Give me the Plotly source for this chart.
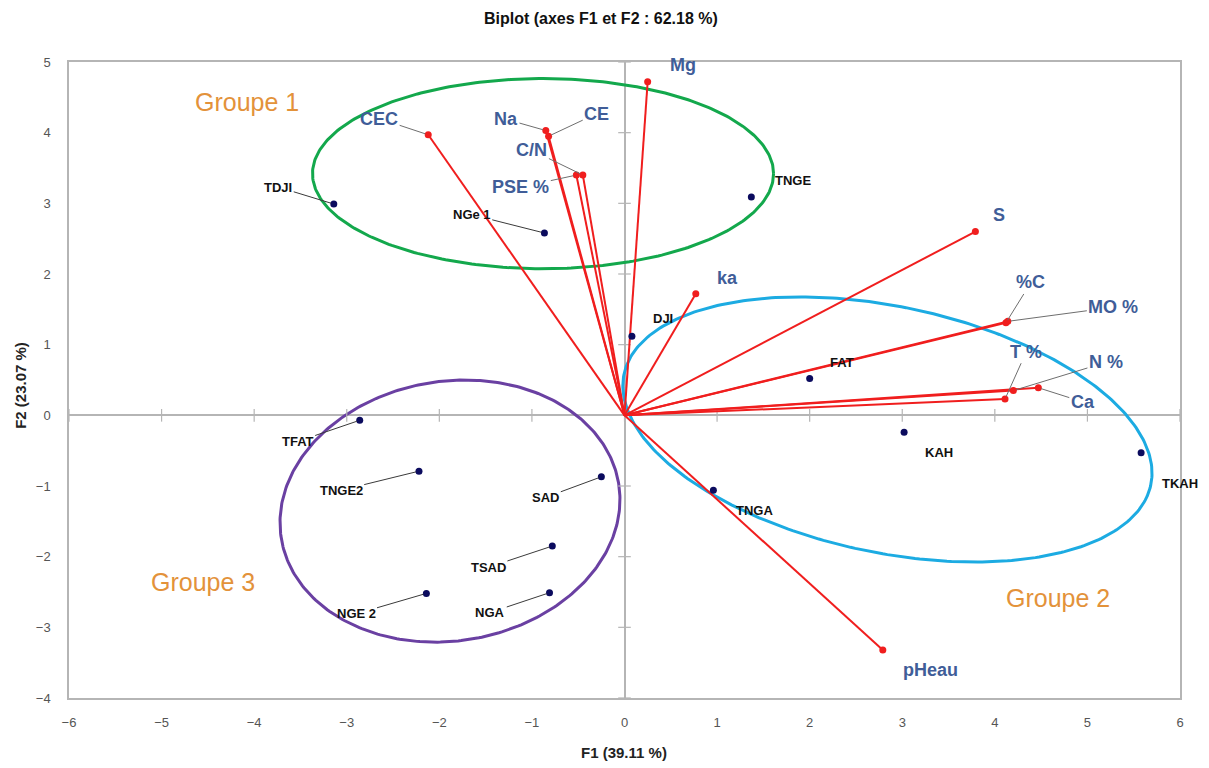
import numpy as np
import plotly.graph_objects as go

# ---------------- data ----------------
var_names = ["Mg", "CEC", "Na", "CE", "C/N", "PSE %", "S", "ka", "%C", "MO %", "T %", "N %", "Ca", "pHeau"]
var_f1 = [0.25, -2.12, -0.85, -0.82, -0.45, -0.52, 3.79, 0.77, 4.12, 4.14, 4.11, 4.20, 4.47, 2.79]
var_f2 = [4.72, 3.97, 4.03, 3.95, 3.40, 3.40, 2.60, 1.72, 1.31, 1.33, 0.23, 0.35, 0.39, -3.32]

obs_names = ["TDJI", "NGe 1", "TNGE", "DJI", "FAT", "KAH", "TKAH", "TNGA",
             "TFAT", "TNGE2", "SAD", "TSAD", "NGA", "NGE 2"]
obs_f1 = [-3.14, -0.865, 1.37, 0.08, 2.00, 3.02, 5.58, 0.96, -2.86, -2.22, -0.25, -0.78, -0.81, -2.14]
obs_f2 = [2.99, 2.58, 3.09, 1.12, 0.52, -0.24, -0.53, -1.06, -0.07, -0.79, -0.87, -1.85, -2.51, -2.52]

group_names = ["Groupe 1", "Groupe 2", "Groupe 3"]
ell_cx = [-0.88, 2.84, -1.885]
ell_cy = [3.42, -0.20, -1.355]
ell_a = [2.49, 2.96, 1.925]
ell_b = [1.345, 1.71, 1.762]
ell_rot_deg = [0.0, -18.6, 48.3]

x_ticks = [-6, -5, -4, -3, -2, -1, 0, 1, 2, 3, 4, 5, 6]
y_ticks = [-4, -3, -2, -1, 0, 1, 2, 3, 4, 5]

# ---------------- label placement (layout) ----------------
var_label_pos = {
    "Mg": (0.63, 4.96, False), "CEC": (-2.65, 4.20, True), "Na": (-1.28, 4.19, True),
    "CE": (-0.30, 4.27, True), "C/N": (-1.00, 3.75, True), "PSE %": (-1.12, 3.23, True),
    "S": (4.05, 2.83, False), "ka": (1.11, 1.95, False), "%C": (4.39, 1.88, True),
    "MO %": (5.28, 1.53, True), "T %": (4.34, 0.90, True), "N %": (5.20, 0.75, True),
    "Ca": (4.95, 0.19, True), "pHeau": (3.31, -3.61, False),
}
obs_label_pos = {
    "TDJI": (-3.74, 3.23, True), "NGe 1": (-1.65, 2.84, True), "TNGE": (1.82, 3.32, False),
    "DJI": (0.42, 1.37, False), "FAT": (2.35, 0.75, False), "KAH": (3.40, -0.52, False),
    "TKAH": (6.00, -0.96, False), "TNGA": (1.40, -1.34, False), "TFAT": (-3.53, -0.37, True),
    "TNGE2": (-3.06, -1.06, True), "SAD": (-0.85, -1.16, True), "TSAD": (-1.47, -2.15, True),
    "NGA": (-1.45, -2.79, True), "NGE 2": (-2.90, -2.81, True),
}
group_label_pos = [(-4.08, 4.44), (4.68, -2.59), (-4.55, -2.36)]
ell_colors = ["#13A84C", "#1CABE2", "#6A40A2"]

VAR_COLOR = "#405D98"
GROUP_COLOR = "#E3923A"
AXIS_GREY = "#B5B5B5"
FONT = "Liberation Sans"

fig = go.Figure()

# ellipses
t = np.linspace(0, 2 * np.pi, 361)
for cx, cy, a, b, r, col in zip(ell_cx, ell_cy, ell_a, ell_b, ell_rot_deg, ell_colors):
    th = np.radians(r)
    ex = cx + a * np.cos(th) * np.cos(t) - b * np.sin(th) * np.sin(t)
    ey = cy + a * np.sin(th) * np.cos(t) + b * np.cos(th) * np.sin(t)
    fig.add_trace(go.Scatter(x=ex, y=ey, mode="lines", line=dict(color=col, width=3),
                             hoverinfo="skip", showlegend=False))

# crossing axis tick marks
fig.add_trace(go.Scatter(x=x_ticks, y=[0] * len(x_ticks), mode="markers",
                         marker=dict(symbol="line-ns", size=9, line=dict(color=AXIS_GREY, width=1.2)),
                         hoverinfo="skip", showlegend=False))
fig.add_trace(go.Scatter(x=[0] * len(y_ticks), y=y_ticks, mode="markers",
                         marker=dict(symbol="line-ew", size=9, line=dict(color=AXIS_GREY, width=1.2)),
                         hoverinfo="skip", showlegend=False))

# vectors
vx, vy = [], []
for fx, fy in zip(var_f1, var_f2):
    vx += [0, fx, None]
    vy += [0, fy, None]
fig.add_trace(go.Scatter(x=vx, y=vy, mode="lines", line=dict(color="#F01E1E", width=2),
                         hoverinfo="skip", showlegend=False))
fig.add_trace(go.Scatter(x=var_f1, y=var_f2, mode="markers", text=var_names,
                         marker=dict(color="#F01E1E", size=7), showlegend=False))

# observations
fig.add_trace(go.Scatter(x=obs_f1, y=obs_f2, mode="markers", text=obs_names,
                         marker=dict(color="#0B0B5E", size=7), showlegend=False, cliponaxis=False))

annotations = []
for name, fx, fy in zip(var_names, var_f1, var_f2):
    lx, ly, leader = var_label_pos[name]
    txt = "<b>" + name + "</b>"
    vfont = dict(family=FONT, size=18, color=VAR_COLOR)
    if leader:
        annotations.append(dict(
            x=fx, y=fy, ax=lx, ay=ly, xref="x", yref="y", axref="x", ayref="y",
            text=txt, showarrow=True, arrowhead=0, arrowwidth=1, arrowcolor="#6E6E6E",
            standoff=3, font=vfont, xanchor="center", yanchor="middle"))
    else:
        annotations.append(dict(x=lx, y=ly, xref="x", yref="y", text=txt, showarrow=False,
                                font=vfont, xanchor="center", yanchor="middle"))
for name, fx, fy in zip(obs_names, obs_f1, obs_f2):
    lx, ly, leader = obs_label_pos[name]
    txt = "<b>" + name + "</b>"
    ofont = dict(family=FONT, size=13, color="#111111")
    if leader:
        annotations.append(dict(
            x=fx, y=fy, ax=lx, ay=ly, xref="x", yref="y", axref="x", ayref="y",
            text=txt, showarrow=True, arrowhead=0, arrowwidth=1, arrowcolor="#3A3A3A",
            standoff=3, font=ofont))
    else:
        annotations.append(dict(x=lx, y=ly, xref="x", yref="y", text=txt, showarrow=False,
                                font=ofont, xanchor="center", yanchor="middle"))
for g, (gx, gy) in zip(group_names, group_label_pos):
    annotations.append(dict(x=gx, y=gy, xref="x", yref="y", text=g, showarrow=False,
                            xanchor="center", yanchor="middle",
                            font=dict(family=FONT, size=25, color=GROUP_COLOR)))

annotations.append(dict(x=0.4995, y=-0.085, xref="paper", yref="paper", text="<b>F1 (39.11 %)</b>",
                        showarrow=False, xanchor="center", yanchor="middle",
                        font=dict(family=FONT, size=15, color="#222222")))
annotations.append(dict(x=-0.0443, y=0.492, xref="paper", yref="paper", text="<b>F2 (23.07 %)</b>",
                        textangle=-90, showarrow=False, xanchor="center", yanchor="middle",
                        font=dict(family=FONT, size=15, color="#222222")))

fig.update_layout(
    width=1209, height=768,
    margin=dict(l=69, r=29, t=62, b=70),
    paper_bgcolor="white", plot_bgcolor="white",
    title=dict(text="<b>Biplot (axes F1 et F2 : 62.18 %)</b>", x=0.497, xanchor="center",
               y=1 - 18 / 768, yanchor="middle", yref="container",
               font=dict(family=FONT, size=16, color="#111111")),
    annotations=annotations,
    showlegend=False,
)
fig.update_xaxes(range=[-6, 6], tickvals=x_ticks, showgrid=False, zeroline=True,
                 zerolinecolor=AXIS_GREY, zerolinewidth=1.5, showline=True, linecolor=AXIS_GREY,
                 linewidth=1.5, mirror=True, ticks="outside", ticklen=12, tickcolor="rgba(0,0,0,0)",
                 tickfont=dict(family=FONT, size=13, color="#555555"))
fig.update_yaxes(range=[-4, 5], tickvals=y_ticks, showgrid=False, zeroline=True,
                 zerolinecolor=AXIS_GREY, zerolinewidth=1.5, showline=True, linecolor=AXIS_GREY,
                 linewidth=1.5, mirror=True, ticks="outside", ticklen=14, tickcolor="rgba(0,0,0,0)",
                 tickfont=dict(family=FONT, size=13, color="#555555"))

fig.write_html("out.html")
